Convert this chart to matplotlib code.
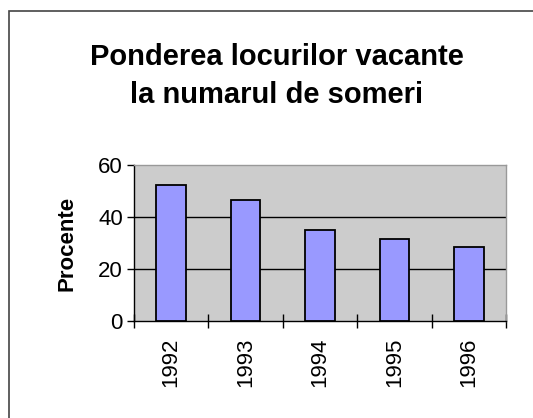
import matplotlib
matplotlib.use("Agg")
import matplotlib.pyplot as plt
from matplotlib.patches import Rectangle
import numpy as np

years = ["1992", "1993", "1994", "1995", "1996"]
values = [52.2, 46.4, 34.9, 31.7, 28.5]
yticks = [0, 20, 40, 60]

plt.rcParams['font.family'] = ['Liberation Sans', 'DejaVu Sans']

W, H = 533, 418
fig = plt.figure(figsize=(W/100, H/100), dpi=100)

# outer border (left & top visible)
fig.add_artist(Rectangle((9/W, -0.1), 1.2, 1 - 11/H + 0.1, transform=fig.transFigure,
                         fill=False, edgecolor='#444444', linewidth=1.2))

x0, x1 = 134, 506
ytop, ybot = 165, 321
ax = fig.add_axes([x0/W, 1 - ybot/H, (x1-x0)/W, (ybot-ytop)/H])
ax.set_facecolor('#cccccc')

x = np.arange(len(years))
ax.bar(x, values, width=0.4, color='#9999ff', edgecolor='black', linewidth=1.3, zorder=3)
ax.set_xlim(-0.5, len(years) - 0.5)
ax.set_ylim(0, 60)
ax.set_yticks(yticks)
ax.set_yticklabels([str(v) for v in yticks], fontsize=16)
for v in [20, 40]:
    ax.axhline(v, color='black', linewidth=1, zorder=1)

ax.set_xticks(np.arange(len(years) + 1) - 0.5)
ax.set_xticklabels([])
ax.set_xticks(x, minor=True)
ax.set_xticklabels(years, minor=True, rotation=90, fontsize=16)
ax.tick_params(axis='x', which='major', direction='inout', length=10, width=1)
ax.tick_params(axis='x', which='minor', length=0, pad=12)
ax.tick_params(axis='y', direction='out', length=5, width=1, pad=3)

for s in ['top', 'right']:
    ax.spines[s].set_color('#999999')
    ax.spines[s].set_linewidth(1)
for s in ['left', 'bottom']:
    ax.spines[s].set_color('black')
    ax.spines[s].set_linewidth(1)

ax.set_ylabel('Procente', fontsize=16, fontweight='bold', labelpad=15)

fig.text(277/W, 1 - 76/H, 'Ponderea locurilor vacante\nla numarul de someri',
         ha='center', va='center', fontsize=21, fontweight='bold', linespacing=1.45)

fig.savefig('out.png', dpi=100)
